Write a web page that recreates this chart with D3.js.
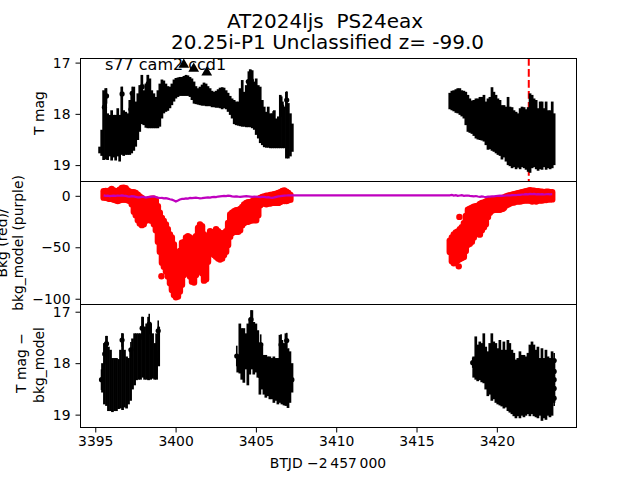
<!DOCTYPE html>
<html><head><meta charset="utf-8">
<script src="https://cdn.jsdelivr.net/npm/d3@7"></script>
<style>html,body{margin:0;padding:0;background:#fff}svg{display:block}text{font-family:"DejaVu Sans";fill:#000;white-space:pre}</style>
</head><body><svg id="c" width="640" height="480"></svg>
<script>
const titleLines = ["AT2024ljs  PS24eax", "20.25i-P1 Unclassified z= -99.0"];
const fieldLabel = "s77 cam2 ccd1";
const xLabel = "BTJD \u22122\u2009457\u2009000";
const xTicks = [3395, 3400, 3405, 3410, 3415, 3420];
const magTicks = [17, 18, 19];
const bkgTicks = [0, -50, -100];
const discoveryTime = 3422.02;

const tTopA = [3395.30,3395.43,3395.55,3395.68,3395.80,3395.93,
3396.05,3396.18,3396.30,3396.43,3396.55,3396.68,3396.80,3396.93,
3397.05,3397.18,3397.30,3397.43,3397.55,3397.68,3397.80,3397.93,
3398.05,3398.18,3398.30,3398.43,3398.55,3398.68,3398.80,3398.93,
3399.05,3399.18,3399.30,3399.43,3399.55,3399.68,3399.80,3399.93,
3400.05,3400.18,3400.30,3400.43,3400.55,3400.68,3400.80,3400.93,
3401.05,3401.18,3401.30,3401.43,3401.55,3401.68,3401.80,3401.93,
3402.05,3402.18,3402.30,3402.43,3402.55,3402.68,3402.80,3402.93,
3403.05,3403.18,3403.30,3403.43,3403.55,3403.68,3403.80,3403.93,
3404.05,3404.18,3404.30,3404.43,3404.55,3404.68,3404.80,3404.93,
3405.05,3405.18,3405.30,3405.43,3405.55,3405.68,3405.80,3405.93,
3406.05,3406.18,3406.30,3406.43,3406.55,3406.68,3406.80,3406.93,
3407.05,3407.18,3407.30];
const magUpA = [18.65,18.32,17.55,17.51,18.0,18.03,17.94,18.03,18.03,17.9,18.03,17.48,17.94,17.97,18.0,17.74,17.58,17.48,17.77,17.61,17.45,17.25,17.55,17.42,17.25,17.32,17.55,17.61,17.68,17.55,17.42,17.34,17.36,17.42,17.47,17.48,17.42,17.34,17.31,17.3,17.29,17.29,17.27,17.25,17.26,17.29,17.32,17.38,17.47,17.51,17.48,17.44,17.4,17.42,17.47,17.51,17.56,17.58,17.56,17.53,17.5,17.49,17.5,17.55,17.6,17.66,17.71,17.74,17.77,17.77,17.51,17.35,17.58,17.45,17.35,17.14,17.16,17.38,17.32,17.45,17.48,17.74,17.87,17.97,17.87,18.0,18.0,17.94,18.1,18.06,17.64,17.77,17.87,17.58,17.8,18.0,18.2];
const magLoA = [18.78,18.83,18.91,18.90,18.91,18.84,18.92,18.86,18.92,18.84,18.94,18.81,18.83,18.81,18.81,18.81,18.78,18.73,18.65,18.52,18.36,18.21,18.23,18.28,18.29,18.29,18.29,18.29,18.29,18.29,18.26,18.10,18.0,17.97,17.95,17.90,17.84,17.77,17.71,17.68,17.66,17.66,17.66,17.66,17.66,17.68,17.74,17.81,17.82,17.83,17.84,17.85,17.85,17.86,17.86,17.86,17.88,17.88,17.89,17.89,17.90,17.92,17.90,17.92,17.97,18.03,18.10,18.21,18.23,18.24,18.25,18.26,18.26,18.27,18.27,18.27,18.29,18.32,18.42,18.49,18.58,18.62,18.66,18.67,18.67,18.68,18.68,18.68,18.68,18.68,18.68,18.68,18.68,18.88,18.88,18.84,18.75];

const tTopC = [3417.10,3417.23,3417.35,3417.48,3417.60,3417.73,3417.85,3417.98,
3418.10,3418.23,3418.35,3418.48,3418.60,3418.73,3418.85,3418.98,
3419.10,3419.23,3419.35,3419.48,3419.60,3419.73,3419.85,3419.98,
3420.10,3420.23,3420.35,3420.48,3420.60,3420.73,3420.85,3420.98,
3421.10,3421.23,3421.35,3421.48,3421.60,3421.73,3421.85,3421.98,
3422.10,3422.23,3422.35,3422.48,3422.60,3422.73,3422.85,3422.98,
3423.10,3423.23,3423.35,3423.48,3423.60];
const magUpC = [17.60,17.56,17.55,17.53,17.51,17.51,17.55,17.56,17.58,17.64,17.71,17.75,17.74,17.71,17.71,17.68,17.68,17.64,17.77,17.71,17.68,17.49,17.58,17.64,17.71,17.74,17.84,17.84,17.87,17.68,17.87,17.88,17.94,17.97,18.0,17.9,17.87,17.88,17.92,17.88,17.61,17.64,17.71,17.74,17.9,17.77,17.77,17.9,17.77,17.94,17.94,17.77,18.0];
const magLoC = [17.92,17.94,17.96,17.99,18.0,18.03,18.06,18.10,18.23,18.36,18.38,18.40,18.44,18.49,18.51,18.52,18.53,18.55,18.62,18.71,18.70,18.73,18.75,18.78,18.81,18.83,18.90,18.86,18.94,19.01,19.03,19.07,19.05,19.09,19.06,19.09,19.05,19.07,19.10,19.14,19.16,19.07,19.05,19.09,19.12,19.09,19.10,19.05,19.10,19.07,19.09,19.07,19.01];

const tOutTop = [3396.7,3395.6,3395.73,3397.95,3398.33,3397.33,3397.25,3404.56,3404.75,3406.95,3406.64,3406.1];
const magOutTop = [17.62,17.88,17.66,17.48,17.42,17.61,17.92,17.38,17.36,17.74,17.87,18.16];
const errOutTop = [0.14,0.2,0.15,0.2,0.17,0.13,0.15,0.2,0.2,0.17,0.2,0.2];

const tBkgOut = [3399.15,3417.7,3420.4,3418.94,3417.66];
const bkgOut = [-78.7,-21,-13,-38,-69];
const bkgHighA = [3.9,4.2,3.9,4.8,6.1,4.8,3.9,4.2,5.5,7.1,7.4,6.8,4.8,3.5,2.9,2.9,2.3,0.6,-1,-2.6,-4.2,-4.8,-4.2,-3.5,-3.2,-3.2,-4.2,-10.6,-17,-21.9,-25,-28.4,-33,-38,-41,-47.7,-60.6,-60.6,-54,-46,-45.5,-41,-39.7,-41,-46,-49,-39.7,-31.6,-28.4,-30,-38,-47.7,-39.7,-34.8,-35.8,-38,-33,-34.8,-36.5,-38,-36.5,-34.8,-26.8,-18.7,-17,-15.5,-14.5,-14.5,-13.2,-11.3,-9,-7.4,-6.8,-6.8,-5.8,-4.2,-3.5,-3.5,-2.6,-1.6,-1,-0.3,-0.3,0.3,0.6,1,1.6,2.3,2.9,4.2,4.8,3.5,2.3,0.3];
const bkgLowA = [-2.3,-2.3,-2.9,-3.5,-3.2,-4.2,-4.8,-5.5,-4.8,-4.2,-4.2,-4.2,-4.8,-5.5,-8.7,-16,-19.4,-24.2,-27.4,-29,-28,-24.8,-23.5,-24.2,-24.8,-28,-33.9,-45,-54.8,-65.5,-69.4,-74,-79,-85.5,-92,-96.8,-99,-98.4,-93.5,-87,-77.4,-71,-74,-79,-83.9,-84.8,-77.4,-64.5,-67.7,-75.8,-82.9,-81.6,-64.5,-54.8,-56.5,-58,-59.7,-61.3,-62.3,-61.3,-58,-54.8,-48.4,-40.3,-36.5,-35.5,-35.5,-35.5,-33.9,-29,-26.8,-25.8,-25.8,-24.8,-24.2,-24.2,-24.2,-19.4,-9.7,-8,-8,-8.7,-8,-8,-7.4,-7.4,-7.4,-7.4,-6.5,-4.8,-5.5,-5.5,-4.8,-4.2];
const modelA = [0,-0.5,-0.3,-0.8,-0.5,-0.3,-0.6,-0.2,-0.4,0,-0.3,-0.5,-1,-1.2,-0.8,-1,-1.5,-2,-2,-1.6,-1.5,-2.2,-1.8,-1.5,-1.2,-1,-1.6,-2.2,-2.6,-2.5,-3,-2.8,-3.2,-3.8,-4.2,-5,-6,-5,-4,-3.5,-3.5,-3,-3.2,-2.6,-2.8,-2.5,-2.2,-2.6,-3,-2.8,-2.5,-2.2,-2,-2.2,-1.8,-1.5,-1.8,-1.2,-1,-0.8,-0.6,-0.8,-0.4,-0.5,-1,-1.2,-1,-1.3,-1.5,-1.2,-1,-0.8,-1,-1.2,-1.5,-1.2,-1.4,-1.6,-1.8,-1.5,-1.6,-2,-1.8,-2.2,-2.4,-2,-1.5,-1,-0.8,-0.5,-0.3,-0.2,0,0];
const bkgHighC = [-44,-41,-38,-36,-35,-33,-31,-27,-20,-14,-13,-12,-11,-10.5,-10,-8.5,-7.5,-7,-6,-5,-4.5,-4,-4,-3.5,-3,-3,-2.5,-2,-1,-0.5,0,0.5,1,1.5,2,2.5,3,3.5,4,4.5,5,4.5,4.5,4,4,3.5,3.5,3,3.5,3.5,3,3];
const bkgLowC = [-55,-64,-66,-65,-63,-62,-61,-60,-54,-48,-47,-45,-41,-37,-37,-38,-34,-31,-28,-21,-17,-15,-14,-14,-14,-14,-13,-12,-10,-9,-8,-7,-7,-6,-6,-6,-5.5,-5,-5,-5,-5,-6,-5,-6,-5,-5,-5,-4.5,-4.5,-4,-4,-4];
const modelC = [0,0.3,-0.3,0.2,-0.5,-0.2,0.1,-0.5,-0.3,-0.2,-0.6,-0.8,-1,-0.7,-1.2,-1.5,-1,-1.4,-1.7,-1.3,-1.2,-0.9,-1,-0.7,-0.5,-0.3,-0.5,-0.4,-0.2,0,-0.2,0.2,0.3,0.1,0.5,0.4,0.8,0.9,1.2,1,1.4,1.1,1.3,1,1.2,0.9,1.1,0.8,1,1.2,1,1.1];

const tBotA = [3395.48,3395.60,3395.73,3395.85,3395.98,3396.10,3396.23,3396.35,3396.48,3396.60,3396.73,3396.85,3396.98,3397.10,3397.23,3397.35,3397.48,3397.60,3397.73,3397.85,3397.98,3398.10,3398.23,3398.35,3398.48,3398.60,3398.73,3398.85,3398.98];
const subUpA = [18.01,17.62,17.48,17.69,17.75,17.91,17.91,17.91,17.93,17.75,17.43,17.75,17.88,17.91,17.75,17.53,17.43,17.43,17.43,17.43,17.11,17.30,17.24,17.11,17.24,17.43,17.62,17.43,17.30];
const subLoA = [18.58,18.81,18.84,18.94,18.94,18.96,18.94,18.94,18.90,18.89,18.92,18.87,18.89,18.81,18.74,18.52,18.44,18.34,18.33,18.33,18.29,18.33,18.33,18.34,18.33,18.31,18.33,18.33,18.07];
const tBotB = [3403.90,3404.03,3404.15,3404.28,3404.40,3404.53,3404.65,3404.78,3404.90,3405.03,3405.15,3405.28,3405.40,3405.53,3405.65,3405.78,3405.90,3406.03,3406.15,3406.28,3406.40,3406.53,3406.65,3406.78,3406.90,3407.03,3407.15,3407.28];
const subUpB = [17.85,17.24,17.33,17.33,17.43,17.24,17.14,16.98,17.21,17.24,17.37,17.62,17.62,17.85,17.85,17.88,17.88,17.91,17.88,17.91,17.91,17.46,17.56,17.62,17.43,17.72,17.78,18.01];
const subLoB = [18.19,18.21,18.33,18.39,18.13,18.44,18.23,18.13,18.23,18.19,18.29,18.62,18.52,18.62,18.68,18.65,18.71,18.71,18.78,18.74,18.81,18.78,18.81,18.83,18.84,18.88,18.78,18.58];
const tBotC = [3418.59,3418.72,3418.84,3418.97,3419.09,3419.22,3419.34,3419.47,3419.59,3419.72,3419.84,3419.97,3420.09,3420.22,3420.34,3420.47,3420.59,3420.72,3420.84,3420.97,3421.09,3421.22,3421.34,3421.47,3421.59,3421.72,3421.84,3421.97,3422.09,3422.22,3422.34,3422.47,3422.59,3422.72,3422.84,3422.97,3423.09,3423.22,3423.34,3423.47,3423.59];
const subUpC = [17.88,17.49,17.65,17.59,17.62,17.43,17.69,17.78,17.62,17.43,17.59,17.62,17.72,17.56,17.75,17.59,17.75,17.56,17.62,17.75,17.81,17.94,17.91,17.78,17.85,17.85,17.88,17.81,17.65,17.59,17.65,17.75,17.69,17.91,17.72,17.91,17.75,17.88,17.91,17.78,17.94];
const subLoC = [18.29,18.33,18.36,18.34,18.38,18.40,18.52,18.65,18.62,18.74,18.71,18.78,18.81,18.83,18.85,18.89,18.87,18.94,18.97,19.0,19.04,19.08,19.04,19.08,19.03,19.06,19.03,19.0,19.04,19.0,19.04,19.06,19.08,19.03,19.13,19.08,19.11,19.03,19.06,19.03,18.78];
const tOutBot = [3395.62,3395.73,3396.7,3397.25,3397.95,3398.39,3398.95,3398.85,3395.42,3403.84,3404.73,3405.33,3405.29,3406.6,3406.95,3407.27,3418.53,3423.6,3423.6,3423.6,3423.6,3423.6];
const magOutBot = [17.83,17.63,17.56,17.75,17.33,17.25,17.38,17.97,18.33,17.87,17.16,17.65,18.25,17.65,17.57,18.33,18.0,17.96,18.17,18.33,18.5,18.69];
const errOutBot = [0.2,0.15,0.13,0.15,0.22,0.2,0.2,0.2,0.2,0.2,0.18,0.2,0.25,0.2,0.15,0.2,0.1,0.15,0.15,0.15,0.15,0.15];

const tLimit = [3400.54, 3401.16, 3401.97];
const magLimit = [17.05, 17.13, 17.2];

const L = 80, R = 576, T1 = 58, B1 = 181, B2 = 304, B3 = 427;
const svg = d3.select("#c");
const x = d3.scaleLinear().domain([3394.08, 3424.96]).range([L, R]);
const y1 = d3.scaleLinear().domain([16.92, 19.32]).range([T1, B1]);
const y2 = d3.scaleLinear().domain([13.9, -105.6]).range([B1, B2]);
const y3 = d3.scaleLinear().domain([16.86, 19.25]).range([B2, B3]);

const bars = (g, t, a, b, y, w = 2.7) => g.append("g").selectAll("line").data(d3.zip(t, a, b)).join("line")
  .attr("x1", d => x(d[0])).attr("x2", d => x(d[0]))
  .attr("y1", d => y(d[1])).attr("y2", d => y(d[2]))
  .attr("stroke", "#000").attr("stroke-width", w);
const outliers = (g, t, m, e, y) => {
  const rows = d3.zip(t, m, e);
  bars(g, t, m.map((v, i) => v - e[i]), m.map((v, i) => v + e[i]), y, 1.6);
  g.append("g").selectAll("circle").data(rows).join("circle")
    .attr("cx", d => x(d[0])).attr("cy", d => y(d[1])).attr("r", 2.6).attr("fill", "#000");
};
const ranges = (g, t, hi, lo) => g.append("g").selectAll("line").data(d3.zip(t, hi, lo)).join("line")
  .attr("x1", d => x(d[0])).attr("x2", d => x(d[0]))
  .attr("y1", d => y2(d[1])).attr("y2", d => y2(d[2]))
  .attr("stroke", "#f00").attr("stroke-width", 6.4).attr("stroke-linecap", "round");

// top panel
const g1 = svg.append("g");
g1.append("line").attr("x1", x(discoveryTime)).attr("x2", x(discoveryTime)).attr("y1", T1).attr("y2", B1 + 1)
  .attr("stroke", "#f00").attr("stroke-width", 2).attr("stroke-dasharray", "7.7,3.3");
bars(g1, tTopA, magUpA, magLoA, y1);
bars(g1, tTopC, magUpC, magLoC, y1);
outliers(g1, tOutTop, magOutTop, errOutTop, y1);
g1.append("g").selectAll("path").data(d3.zip(tLimit, magLimit)).join("path")
  .attr("d", d3.symbol(d3.symbolTriangle, 50))
  .attr("transform", d => `translate(${x(d[0])},${y1(d[1])})`).attr("fill", "#000");

// middle panel
const g2 = svg.append("g");
const tMidA = tTopA.slice(2, 96), tMidC = tTopC.slice(0, 52);
ranges(g2, tMidA, bkgHighA, bkgLowA);
ranges(g2, tMidC, bkgHighC, bkgLowC);
g2.append("g").selectAll("circle").data(d3.zip(tBkgOut, bkgOut)).join("circle")
  .attr("cx", d => x(d[0])).attr("cy", d => y2(d[1])).attr("r", 3.2).attr("fill", "#f00");
const modelRows = d3.zip(tMidA, modelA).concat(d3.zip(tMidC, modelC));
g2.append("path").attr("d", d3.line().x(d => x(d[0])).y(d => y2(d[1]))(modelRows))
  .attr("fill", "none").attr("stroke", "#bf00bf").attr("stroke-width", 2.2);

// bottom panel
const g3 = svg.append("g");
bars(g3, tBotA, subUpA, subLoA, y3);
bars(g3, tBotB, subUpB, subLoB, y3);
bars(g3, tBotC, subUpC, subLoC, y3);
outliers(g3, tOutBot, magOutBot, errOutBot, y3);

// frames and axes
[[T1, B1], [B1, B2], [B2, B3]].forEach(([a, b]) =>
  svg.append("rect").attr("x", L + .5).attr("y", a + .5).attr("width", R - L).attr("height", b - a)
    .attr("fill", "none").attr("stroke", "#000").attr("stroke-width", 1));
const styleAxis = g => {
  g.select(".domain").remove();
  g.selectAll("text").style("font-family", '"DejaVu Sans"').style("font-size", "13.9px").attr("fill", "#000");
  g.selectAll("line").attr("stroke", "#000").attr("stroke-width", 1);
};
const intFmt = d3.format("d");
svg.append("g").attr("transform", `translate(${L + .5},.5)`)
  .call(d3.axisLeft(y1).tickValues(magTicks).tickFormat(intFmt).tickSize(5).tickPadding(5)).call(styleAxis);
svg.append("g").attr("transform", `translate(${L + .5},.5)`)
  .call(d3.axisLeft(y2).tickValues(bkgTicks).tickFormat(intFmt).tickSize(5).tickPadding(5)).call(styleAxis);
svg.append("g").attr("transform", `translate(${L + .5},.5)`)
  .call(d3.axisLeft(y3).tickValues(magTicks).tickFormat(intFmt).tickSize(5).tickPadding(5)).call(styleAxis);
svg.append("g").attr("transform", `translate(.5,${B3 + .5})`)
  .call(d3.axisBottom(x).tickValues(xTicks).tickFormat(intFmt).tickSize(5).tickPadding(4)).call(styleAxis);

// text
const label = (s, px, py, size, rot) => svg.append("text").text(s).attr("text-anchor", "middle")
  .attr("font-size", size).attr("transform", `translate(${px},${py})` + (rot ? " rotate(-90)" : ""));
label(titleLines[0], 325, 28, 20);
label(titleLines[1], 327.5, 49, 20);
svg.append("text").text(fieldLabel).attr("x", 105).attr("y", 70).attr("font-size", 16);
label(xLabel, 328, 468, 13.9);
label("T mag", 44, 113, 13.9, true);
label("Bkg (red)/", 7, 243, 13.9, true);
label("bkg_model (purple)", 23, 243, 13.9, true);
label("T mag \u2212", 26, 363, 13.9, true);
label("bkg_model", 44, 365, 13.9, true);
</script></body></html>
